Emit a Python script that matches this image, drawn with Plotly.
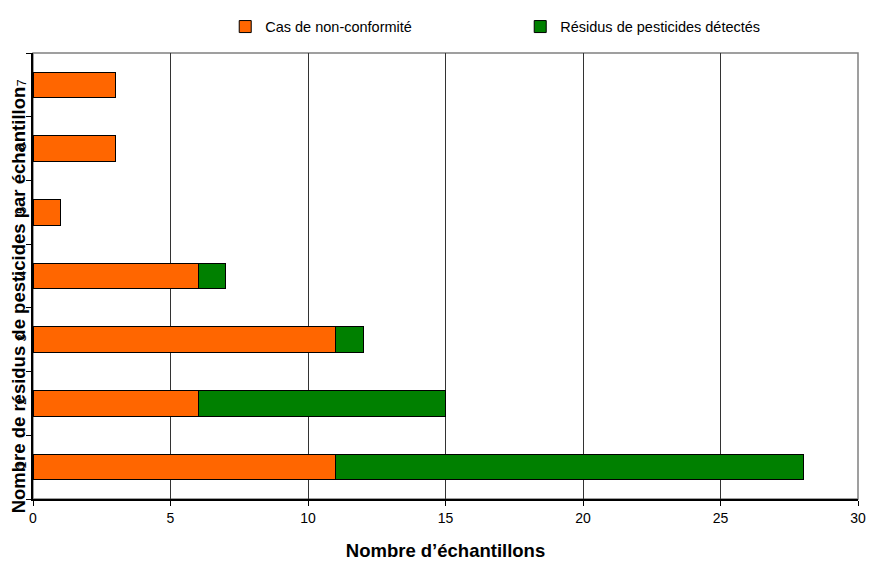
import plotly.graph_objects as go

# Number of pesticide residues per sample (category axis, bottom to top)
residues = ["1", "2", "3", "4", "5", "6", "7"]
# Non-compliant cases for each residue count
non_conformes = [11, 6, 11, 6, 1, 3, 3]
# Remaining samples with detected residues (stacked after the non-compliant part)
residus_detectes = [17, 9, 1, 1, 0, 0, 0]

x_ticks = [0, 5, 10, 15, 20, 25, 30]

FONT = "Liberation Sans, Arial, sans-serif"

fig = go.Figure()
fig.add_trace(go.Bar(
    y=residues, x=non_conformes, orientation="h",
    name="Cas de non-conformité",
    marker=dict(color="#FF6600", line=dict(color="#000000", width=1)),
))
fig.add_trace(go.Bar(
    y=residues, x=residus_detectes, orientation="h",
    name="Résidus de pesticides détectés",
    marker=dict(color="#008000", line=dict(color="#000000", width=1)),
))

# grey frame on top and right of the plot area
fig.add_shape(type="rect", xref="paper", yref="paper", x0=0, y0=0, x1=1, y1=1,
              line=dict(color="#808080", width=1.5), layer="below")

fig.update_layout(
    width=869, height=562,
    barmode="stack", bargap=0.6,
    plot_bgcolor="white", paper_bgcolor="white",
    margin=dict(l=33, r=11, t=48, b=63),
    font=dict(family=FONT, color="#000000", size=14),
    showlegend=True,
    legend=dict(orientation="h", x=0.233, xanchor="left", y=1.095, yanchor="top",
                font=dict(size=14.5), traceorder="normal", entrywidth=250,
                bgcolor="rgba(0,0,0,0)"),
    xaxis=dict(
        range=[0, 30], tickvals=x_ticks, ticktext=[str(v) for v in x_ticks],
        showgrid=True, gridcolor="#333333", gridwidth=1,
        showline=True, linecolor="#000000", linewidth=1.5,
        ticks="outside", ticklen=5, tickcolor="#000000",
        zeroline=False, tickfont=dict(size=14), automargin=False,
        title=dict(text="<b>Nombre d’échantillons</b>", font=dict(size=18.5), standoff=20),
    ),
    yaxis=dict(
        type="category", categoryorder="array", categoryarray=residues,
        showgrid=False, showline=True, linecolor="#000000", linewidth=1.5,
        ticks="outside", ticklen=5, tickcolor="#000000", tickson="boundaries",
        tickangle=-90, tickfont=dict(size=13), automargin=False,
        zeroline=False,
    ),
    annotations=[dict(
        text="<b>Nombre de résidus de pesticides par échantillon</b>",
        xref="paper", yref="paper", x=-0.018, y=0.4457,
        xanchor="center", yanchor="middle", textangle=-90,
        showarrow=False, font=dict(size=18.5),
    )],
)

fig.write_html("out.html")
